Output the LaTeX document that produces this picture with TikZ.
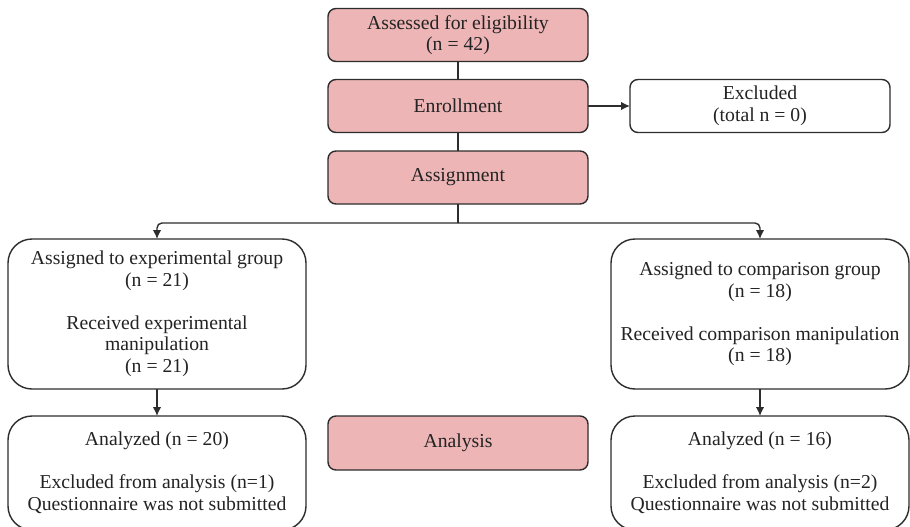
\documentclass[tikz,border=0pt]{standalone}
\usepackage{fontspec}
\setmainfont{Liberation Serif}
\usetikzlibrary{arrows.meta}
\definecolor{pinkfill}{RGB}{237,181,182}
\definecolor{edgec}{RGB}{45,45,45}
\definecolor{textc}{RGB}{35,35,35}
\begin{document}
\begin{tikzpicture}[x=1pt,y=-1pt,
  every node/.style={font=\fontsize{19.7}{21.5}\selectfont, align=center, inner sep=0pt, outer sep=0pt, text=textc},
  stagebox/.style={draw=edgec, line width=1.4pt, fill=pinkfill, rounded corners=8pt, minimum width=260pt, minimum height=53pt},
  smallbox/.style={draw=edgec, line width=1.4pt, fill=white, rounded corners=8pt, minimum width=260pt, minimum height=53pt},
  groupbox/.style={draw=edgec, line width=1.4pt, fill=white, rounded corners=24pt, minimum width=298pt},
  conn/.style={draw=edgec, line width=1.4pt},
  arr/.style={conn, -{Latex[length=9pt,width=8.5pt]}}
]
\useasboundingbox (0,0) rectangle (910,527);
\clip (0,0) rectangle (910,527);
\node[stagebox] (assess) at (458,35) {Assessed for eligibility\\(n = 42)};
\node[stagebox] (enrol) at (458,106) {Enrollment};
\node[smallbox] (excl) at (760,106) {Excluded\\(total n = 0)};
\node[stagebox] (assign) at (458,177.5) {Assignment};
\node[groupbox, minimum height=150pt] (expg) at (157,314) {Assigned to experimental group\\(n = 21)\\[21.5pt]Received experimental\\manipulation\\(n = 21)};
\node[groupbox, minimum height=150pt] (cmpg) at (760,314) {Assigned to comparison group\\(n = 18)\\[21.5pt]Received comparison manipulation\\(n = 18)};
\node[groupbox, minimum height=114pt] (expa) at (157,473) {Analyzed (n = 20)\\[21.5pt]Excluded from analysis (n=1)\\Questionnaire was not submitted};
\node[stagebox, minimum height=54pt] (anal) at (458,443) {Analysis};
\node[groupbox, minimum height=114pt] (cmpa) at (760,473) {Analyzed (n = 16)\\[21.5pt]Excluded from analysis (n=2)\\Questionnaire was not submitted};
\coordinate (split) at (458,223);
\draw[conn] (assess) -- (enrol);
\draw[conn] (enrol) -- (assign);
\draw[arr] (enrol) -- (excl);
\draw[conn] (assign) -- (split);
\draw[arr, rounded corners=5pt] (split) -| (expg);
\draw[arr, rounded corners=5pt] (split) -| (cmpg);
\draw[arr] (expg) -- (expa);
\draw[arr] (cmpg) -- (cmpa);
\end{tikzpicture}
\end{document}
